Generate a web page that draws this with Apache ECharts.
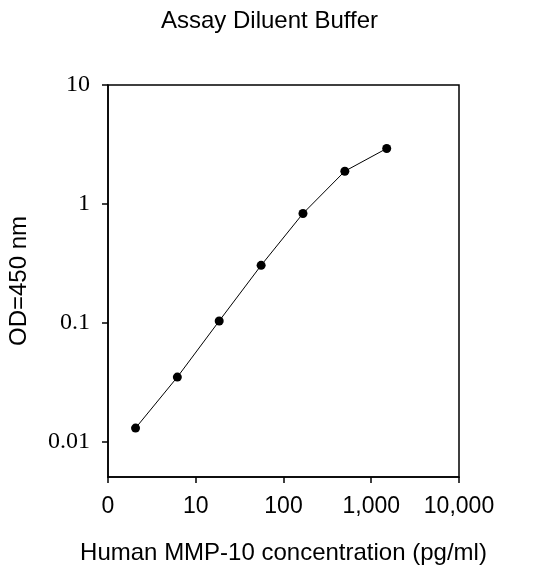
<!DOCTYPE html>
<html>
	<head>
		<meta charset="utf-8">
		<script src="https://cdn.jsdelivr.net/npm/echarts@6/dist/echarts.min.js"></script>
		<style>
			html, body { margin:0; padding:0; background:#fff; }
		</style>
	</head>
	<body>
		<div id="main" style="width:539px;height:575px;"></div>
		<script>
			// standard curve, 3-fold dilutions (pg/ml) vs OD
			var concentration = [2.06, 6.17, 18.5, 55.6, 166.7, 500, 1500];
			var od = [0.0129, 0.0347, 0.103, 0.303, 0.828, 1.88, 2.92];
			var xTickLabels = ['0', '10', '100', '1,000', '10,000'];
			var yTickLabels = ['0.01', '0.1', '1', '10'];

			var points = [];
			for (var i = 0; i < concentration.length; i++) {
				points.push([concentration[i], od[i]]);
			}

			var option = {
				backgroundColor: '#fff',
				animation: false,
				title: {
					text: 'Assay Diluent Buffer',
					left: 'center',
					top: 4,
					textStyle: {
						fontFamily: 'Liberation Sans',
						fontWeight: 'normal',
						fontSize: 24,
						color: '#000'
					}
				},
				grid: {
					left: 108,
					right: 80,
					top: 85,
					bottom: 98,
					outerBoundsMode: 'none',
					show: true,
					borderColor: '#000',
					borderWidth: 1.5
				},
				xAxis: {
					type: 'log',
					logBase: 10,
					min: 1,
					max: 10000,
					name: 'Human MMP-10 concentration (pg/ml)',
					nameLocation: 'middle',
					nameGap: 64,
					nameTextStyle: {
						fontFamily: 'Liberation Sans',
						fontSize: 24,
						color: '#000'
					},
					axisLine: { lineStyle: { color: '#000', width: 1.5 } },
					axisTick: { inside: false, length: 6, lineStyle: { color: '#000', width: 1.5 } },
					minorTick: { show: false },
					splitLine: { show: false },
					axisLabel: {
						margin: 18,
						fontFamily: 'Liberation Sans',
						fontSize: 23,
						color: '#000',
						formatter: function (v) {
							return xTickLabels[Math.round(Math.log10(v))];
						}
					}
				},
				yAxis: {
					type: 'log',
					logBase: 10,
					min: 0.005,
					max: 10,
					name: 'OD=450 nm',
					nameLocation: 'middle',
					nameRotate: 90,
					nameGap: 77,
					nameTextStyle: {
						fontFamily: 'Liberation Sans',
						fontSize: 24,
						color: '#000'
					},
					axisLine: { lineStyle: { color: '#000', width: 1.5 } },
					axisTick: { inside: false, length: 6, lineStyle: { color: '#000', width: 1.5 } },
					splitLine: { show: false },
					axisLabel: {
						margin: 18,
						showMinLabel: false,
						fontFamily: 'Liberation Serif',
						fontSize: 24,
						color: '#000',
						formatter: function (v) {
							var k = Math.round(Math.log10(v)) + 2;
							return yTickLabels[k] !== undefined ? yTickLabels[k] : '';
						}
					}
				},
				series: [
					{
						type: 'line',
						data: points,
						symbol: 'circle',
						symbolSize: 9,
						itemStyle: { color: '#000' },
						lineStyle: { color: '#000', width: 1 }
					}
				]
			};
			var myChart = echarts.init(document.getElementById('main'));
			myChart.setOption(option);
		</script>
	</body>
</html>
